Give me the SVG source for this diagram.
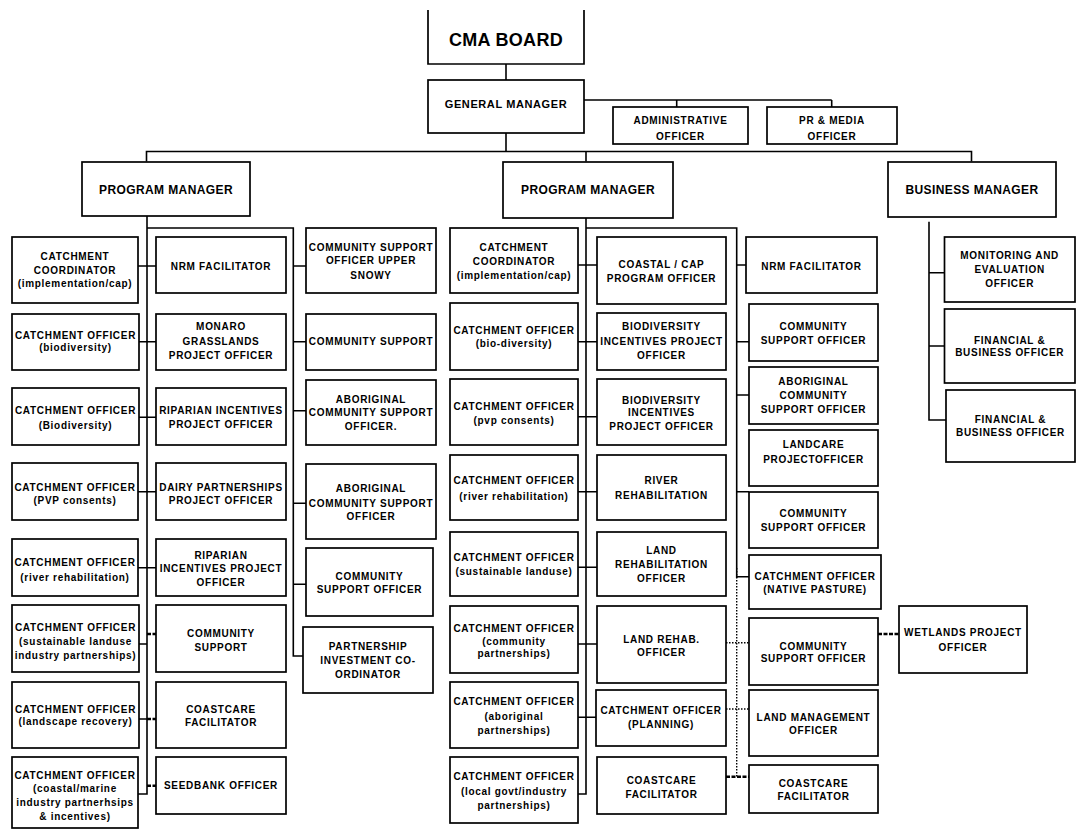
<svg xmlns="http://www.w3.org/2000/svg" width="1076" height="830" viewBox="0 0 1076 830">
<style>
  .bx { fill: #fff; stroke: #000; stroke-width: 1.7; }
  .t { font-family: "Liberation Sans", Arial, sans-serif; font-weight: bold; font-size: 10px; letter-spacing: 0.7px; text-anchor: middle; fill: #000; }
  .m { font-size: 12px; letter-spacing: 0.4px; }
  .g { font-size: 11px; letter-spacing: 0.6px; }
  .big { font-size: 18px; letter-spacing: 0.3px; }
  .ln { fill: none; stroke: #000; stroke-width: 1.6; }
  .dt { fill: none; stroke: #000; stroke-width: 1.4; stroke-dasharray: 1.5 1.5; }
  .hv { fill: none; stroke: #000; stroke-width: 2.4; stroke-dasharray: 4 1.5; }
</style>
<rect width="1076" height="830" fill="#fff"/>

<!-- connectors -->
<g id="connectors">
  <!-- board / general manager -->
  <path class="ln" d="M506,64 V80 M506,133 V151.5 M584,100 H831.7 M676.7,100 V107 M831.7,100 V107"/>
  <!-- main bar to managers -->
  <path class="ln" d="M146.5,161.5 V151.5 H971.5 V161.5 M586,151.5 V161.5"/>
  <!-- program manager 1 -->
  <path class="ln" d="M147,216 V794 H138 M147,228 H293.3 V656 H303"/>
  <path class="ln" d="M138,266 H156 M139,341.7 H156 M138,417.3 H156 M138,491.7 H156 M138,567.7 H156 M138,644 H147 M138,719 H147"/>
  <path class="hv" d="M147,634 H156 M147,719 H156 M147,785.7 H156"/>
  <path class="ln" d="M293.3,266 H306 M293.3,341.7 H306 M293.3,410.7 H306 M293.3,503.3 H306 M293.3,584.3 H306"/>
  <!-- program manager 2 -->
  <path class="ln" d="M586,218 V794 H578 M586,228 H736.7 V578"/>
  <path class="ln" d="M578,265 H597 M578,341.7 H597 M578,416.7 H597 M578,491.7 H597 M578,567.3 H597 M578,644 H597 M578,717.3 H596"/>
  <path class="ln" d="M736.7,265 H746 M736.7,341.7 H749 M736.7,395 H749 M736.7,491.7 H749 M736.7,576.7 H749"/>
  <path class="dt" d="M736.7,568 V776.7 M726,642.7 H749 M726,709 H749"/>
  <path class="hv" d="M726,776.7 H749 M878,634 H899"/>
  <!-- business manager -->
  <path class="ln" d="M929,221.7 V420 H946 M929,272.7 H944.5 M929,346 H948"/>
</g>

<!-- top tier -->
<g id="cma-board">
  <path class="bx" d="M428,10 V64 H584 V10"/>
  <text class="t big" x="506" y="45.5">CMA BOARD</text>
</g>
<g id="general-manager">
  <rect class="bx" x="428" y="80" width="156" height="53"/>
  <text class="t g" x="506" y="108">GENERAL MANAGER</text>
</g>
<g id="administrative-officer">
  <rect class="bx" x="613" y="107" width="135" height="37"/>
  <text class="t"><tspan x="680.5" y="123.5">ADMINISTRATIVE</tspan><tspan x="680.5" y="140">OFFICER</tspan></text>
</g>
<g id="pr-media-officer">
  <rect class="bx" x="767" y="107" width="130" height="37"/>
  <text class="t"><tspan x="832" y="123.5">PR &amp; MEDIA</tspan><tspan x="832" y="140">OFFICER</tspan></text>
</g>

<!-- managers -->
<g id="program-manager-1">
  <rect class="bx" x="82" y="162" width="168" height="54"/>
  <text class="t m" x="166" y="194">PROGRAM MANAGER</text>
</g>
<g id="program-manager-2">
  <rect class="bx" x="503" y="162" width="170" height="56"/>
  <text class="t m" x="588" y="194">PROGRAM MANAGER</text>
</g>
<g id="business-manager">
  <rect class="bx" x="888" y="162" width="168" height="55"/>
  <text class="t m" x="972" y="194">BUSINESS MANAGER</text>
</g>

<!-- column A -->
<g id="a1"><rect class="bx" x="12" y="237" width="126" height="66"/>
  <text class="t"><tspan x="75" y="260">CATCHMENT</tspan><tspan x="75" y="273.5">COORDINATOR</tspan><tspan x="75" y="287">(implementation/cap)</tspan></text></g>
<g id="a2"><rect class="bx" x="12" y="314" width="127" height="56"/>
  <text class="t"><tspan x="75.5" y="338.5">CATCHMENT OFFICER</tspan><tspan x="75.5" y="351">(biodiversity)</tspan></text></g>
<g id="a3"><rect class="bx" x="12" y="388" width="127" height="57"/>
  <text class="t"><tspan x="75.5" y="414">CATCHMENT OFFICER</tspan><tspan x="75.5" y="428.5">(Biodiversity)</tspan></text></g>
<g id="a4"><rect class="bx" x="12" y="463" width="126" height="57"/>
  <text class="t"><tspan x="75" y="491">CATCHMENT OFFICER</tspan><tspan x="75" y="504">(PVP consents)</tspan></text></g>
<g id="a5"><rect class="bx" x="12" y="539" width="126" height="57"/>
  <text class="t"><tspan x="75" y="566">CATCHMENT OFFICER</tspan><tspan x="75" y="581">(river rehabilitation)</tspan></text></g>
<g id="a6"><rect class="bx" x="12" y="605" width="127" height="67"/>
  <text class="t"><tspan x="75.5" y="631">CATCHMENT OFFICER</tspan><tspan x="75.5" y="645">(sustainable landuse</tspan><tspan x="75.5" y="658.5">industry partnerships)</tspan></text></g>
<g id="a7"><rect class="bx" x="12" y="682" width="127" height="66"/>
  <text class="t"><tspan x="75.5" y="713">CATCHMENT OFFICER</tspan><tspan x="75.5" y="725">(landscape recovery)</tspan></text></g>
<g id="a8"><rect class="bx" x="12" y="757" width="126" height="71"/>
  <text class="t"><tspan x="75" y="779">CATCHMENT OFFICER</tspan><tspan x="75" y="792">(coastal/marine</tspan><tspan x="75" y="806">industry partnerhsips</tspan><tspan x="75" y="819.5">&amp; incentives)</tspan></text></g>

<!-- column B -->
<g id="b1"><rect class="bx" x="156" y="237" width="130" height="56"/>
  <text class="t" x="221" y="269.5">NRM FACILITATOR</text></g>
<g id="b2"><rect class="bx" x="156" y="314" width="130" height="56"/>
  <text class="t"><tspan x="221" y="330">MONARO</tspan><tspan x="221" y="345">GRASSLANDS</tspan><tspan x="221" y="358.5">PROJECT OFFICER</tspan></text></g>
<g id="b3"><rect class="bx" x="156" y="388" width="130" height="57"/>
  <text class="t"><tspan x="221" y="414">RIPARIAN INCENTIVES</tspan><tspan x="221" y="427.5">PROJECT OFFICER</tspan></text></g>
<g id="b4"><rect class="bx" x="156" y="463" width="130" height="57"/>
  <text class="t"><tspan x="221" y="491">DAIRY PARTNERSHIPS</tspan><tspan x="221" y="503.5">PROJECT OFFICER</tspan></text></g>
<g id="b5"><rect class="bx" x="156" y="539" width="130" height="57"/>
  <text class="t"><tspan x="221" y="559">RIPARIAN</tspan><tspan x="221" y="572">INCENTIVES PROJECT</tspan><tspan x="221" y="586">OFFICER</tspan></text></g>
<g id="b6"><rect class="bx" x="156" y="605" width="130" height="67"/>
  <text class="t"><tspan x="221" y="637">COMMUNITY</tspan><tspan x="221" y="651">SUPPORT</tspan></text></g>
<g id="b7"><rect class="bx" x="156" y="682" width="130" height="66"/>
  <text class="t"><tspan x="221" y="713">COASTCARE</tspan><tspan x="221" y="726">FACILITATOR</tspan></text></g>
<g id="b8"><rect class="bx" x="156" y="757" width="130" height="57"/>
  <text class="t" x="221" y="789">SEEDBANK OFFICER</text></g>

<!-- column C -->
<g id="c1"><rect class="bx" x="306" y="228" width="130" height="65"/>
  <text class="t"><tspan x="371" y="251">COMMUNITY SUPPORT</tspan><tspan x="371" y="264">OFFICER UPPER</tspan><tspan x="371" y="278.5">SNOWY</tspan></text></g>
<g id="c2"><rect class="bx" x="306" y="314" width="130" height="56"/>
  <text class="t" x="371" y="345">COMMUNITY SUPPORT</text></g>
<g id="c3"><rect class="bx" x="306" y="380" width="130" height="65"/>
  <text class="t"><tspan x="371" y="403">ABORIGINAL</tspan><tspan x="371" y="416">COMMUNITY SUPPORT</tspan><tspan x="371" y="430">OFFICER.</tspan></text></g>
<g id="c4"><rect class="bx" x="306" y="464" width="130" height="75"/>
  <text class="t"><tspan x="371" y="492">ABORIGINAL</tspan><tspan x="371" y="507">COMMUNITY SUPPORT</tspan><tspan x="371" y="519.5">OFFICER</tspan></text></g>
<g id="c5"><rect class="bx" x="306" y="548" width="127" height="68"/>
  <text class="t"><tspan x="369.5" y="580">COMMUNITY</tspan><tspan x="369.5" y="592.5">SUPPORT OFFICER</tspan></text></g>
<g id="c6"><rect class="bx" x="303" y="627" width="130" height="66"/>
  <text class="t"><tspan x="368" y="649.5">PARTNERSHIP</tspan><tspan x="368" y="664">INVESTMENT CO-</tspan><tspan x="368" y="678">ORDINATOR</tspan></text></g>

<!-- column D -->
<g id="d1"><rect class="bx" x="450" y="228" width="128" height="65"/>
  <text class="t"><tspan x="514" y="251">CATCHMENT</tspan><tspan x="514" y="264.5">COORDINATOR</tspan><tspan x="514" y="278.5">(implementation/cap)</tspan></text></g>
<g id="d2"><rect class="bx" x="450" y="303" width="128" height="67"/>
  <text class="t"><tspan x="514" y="333.5">CATCHMENT OFFICER</tspan><tspan x="514" y="347">(bio-diversity)</tspan></text></g>
<g id="d3"><rect class="bx" x="450" y="379" width="128" height="66"/>
  <text class="t"><tspan x="514" y="409.5">CATCHMENT OFFICER</tspan><tspan x="514" y="423.5">(pvp consents)</tspan></text></g>
<g id="d4"><rect class="bx" x="450" y="455" width="128" height="65"/>
  <text class="t"><tspan x="514" y="484">CATCHMENT OFFICER</tspan><tspan x="514" y="499.5">(river rehabilitation)</tspan></text></g>
<g id="d5"><rect class="bx" x="450" y="532" width="128" height="64"/>
  <text class="t"><tspan x="514" y="561">CATCHMENT OFFICER</tspan><tspan x="514" y="575">(sustainable landuse)</tspan></text></g>
<g id="d6"><rect class="bx" x="450" y="606" width="128" height="67"/>
  <text class="t"><tspan x="514" y="632">CATCHMENT OFFICER</tspan><tspan x="514" y="645">(community</tspan><tspan x="514" y="657">partnerships)</tspan></text></g>
<g id="d7"><rect class="bx" x="450" y="682" width="128" height="66"/>
  <text class="t"><tspan x="514" y="705">CATCHMENT OFFICER</tspan><tspan x="514" y="720">(aboriginal</tspan><tspan x="514" y="733.5">partnerships)</tspan></text></g>
<g id="d8"><rect class="bx" x="450" y="757" width="128" height="66"/>
  <text class="t"><tspan x="514" y="780">CATCHMENT OFFICER</tspan><tspan x="514" y="795">(local govt/industry</tspan><tspan x="514" y="808.5">partnerships)</tspan></text></g>

<!-- column E -->
<g id="e1"><rect class="bx" x="597" y="237" width="129" height="67"/>
  <text class="t"><tspan x="661.5" y="267.5">COASTAL / CAP</tspan><tspan x="661.5" y="282">PROGRAM OFFICER</tspan></text></g>
<g id="e2"><rect class="bx" x="597" y="313" width="129" height="57"/>
  <text class="t"><tspan x="661.5" y="330">BIODIVERSITY</tspan><tspan x="661.5" y="345">INCENTIVES PROJECT</tspan><tspan x="661.5" y="358.5">OFFICER</tspan></text></g>
<g id="e3"><rect class="bx" x="597" y="379" width="129" height="66"/>
  <text class="t"><tspan x="661.5" y="403.5">BIODIVERSITY</tspan><tspan x="661.5" y="416">INCENTIVES</tspan><tspan x="661.5" y="429.5">PROJECT OFFICER</tspan></text></g>
<g id="e4"><rect class="bx" x="597" y="455" width="129" height="65"/>
  <text class="t"><tspan x="661.5" y="484">RIVER</tspan><tspan x="661.5" y="498.5">REHABILITATION</tspan></text></g>
<g id="e5"><rect class="bx" x="597" y="532" width="129" height="64"/>
  <text class="t"><tspan x="661.5" y="554">LAND</tspan><tspan x="661.5" y="567.5">REHABILITATION</tspan><tspan x="661.5" y="582">OFFICER</tspan></text></g>
<g id="e6"><rect class="bx" x="597" y="606" width="129" height="77"/>
  <text class="t"><tspan x="661.5" y="643">LAND REHAB.</tspan><tspan x="661.5" y="656">OFFICER</tspan></text></g>
<g id="e7"><rect class="bx" x="596" y="690" width="130" height="56"/>
  <text class="t"><tspan x="661" y="714">CATCHMENT OFFICER</tspan><tspan x="661" y="727.5">(PLANNING)</tspan></text></g>
<g id="e8"><rect class="bx" x="597" y="757" width="129" height="57"/>
  <text class="t"><tspan x="661.5" y="784">COASTCARE</tspan><tspan x="661.5" y="797.5">FACILITATOR</tspan></text></g>

<!-- column F -->
<g id="f1"><rect class="bx" x="746" y="237" width="131" height="56"/>
  <text class="t" x="811.5" y="269.5">NRM FACILITATOR</text></g>
<g id="f2"><rect class="bx" x="749" y="304" width="129" height="57"/>
  <text class="t"><tspan x="813.5" y="330">COMMUNITY</tspan><tspan x="813.5" y="343.5">SUPPORT OFFICER</tspan></text></g>
<g id="f3"><rect class="bx" x="749" y="367" width="129" height="57"/>
  <text class="t"><tspan x="813.5" y="385">ABORIGINAL</tspan><tspan x="813.5" y="398.5">COMMUNITY</tspan><tspan x="813.5" y="413">SUPPORT OFFICER</tspan></text></g>
<g id="f4"><rect class="bx" x="749" y="430" width="129" height="56"/>
  <text class="t"><tspan x="813.5" y="447.5">LANDCARE</tspan><tspan x="813.5" y="463">PROJECTOFFICER</tspan></text></g>
<g id="f5"><rect class="bx" x="749" y="492" width="129" height="56"/>
  <text class="t"><tspan x="813.5" y="517">COMMUNITY</tspan><tspan x="813.5" y="531">SUPPORT OFFICER</tspan></text></g>
<g id="f6"><rect class="bx" x="749" y="555" width="132" height="54"/>
  <text class="t"><tspan x="815" y="580">CATCHMENT OFFICER</tspan><tspan x="815" y="593">(NATIVE PASTURE)</tspan></text></g>
<g id="f7"><rect class="bx" x="749" y="618" width="129" height="67"/>
  <text class="t"><tspan x="813.5" y="649.5">COMMUNITY</tspan><tspan x="813.5" y="662">SUPPORT OFFICER</tspan></text></g>
<g id="f8"><rect class="bx" x="749" y="690" width="129" height="66"/>
  <text class="t"><tspan x="813.5" y="721">LAND MANAGEMENT</tspan><tspan x="813.5" y="734">OFFICER</tspan></text></g>
<g id="f9"><rect class="bx" x="749" y="765" width="129" height="48"/>
  <text class="t"><tspan x="813.5" y="787">COASTCARE</tspan><tspan x="813.5" y="800">FACILITATOR</tspan></text></g>

<g id="wetlands-project-officer"><rect class="bx" x="899" y="606" width="128" height="67"/>
  <text class="t"><tspan x="963" y="636">WETLANDS PROJECT</tspan><tspan x="963" y="651">OFFICER</tspan></text></g>

<!-- column G -->
<g id="g1"><rect class="bx" x="944.5" y="237" width="130.5" height="65"/>
  <text class="t"><tspan x="1009.7" y="258.5">MONITORING AND</tspan><tspan x="1009.7" y="272.5">EVALUATION</tspan><tspan x="1009.7" y="287">OFFICER</tspan></text></g>
<g id="g2"><rect class="bx" x="944.5" y="309" width="130.5" height="74"/>
  <text class="t"><tspan x="1009.7" y="343.5">FINANCIAL &amp;</tspan><tspan x="1009.7" y="356">BUSINESS OFFICER</tspan></text></g>
<g id="g3"><rect class="bx" x="946" y="390" width="129" height="72"/>
  <text class="t"><tspan x="1010.5" y="423">FINANCIAL &amp;</tspan><tspan x="1010.5" y="436">BUSINESS OFFICER</tspan></text></g>
</svg>
